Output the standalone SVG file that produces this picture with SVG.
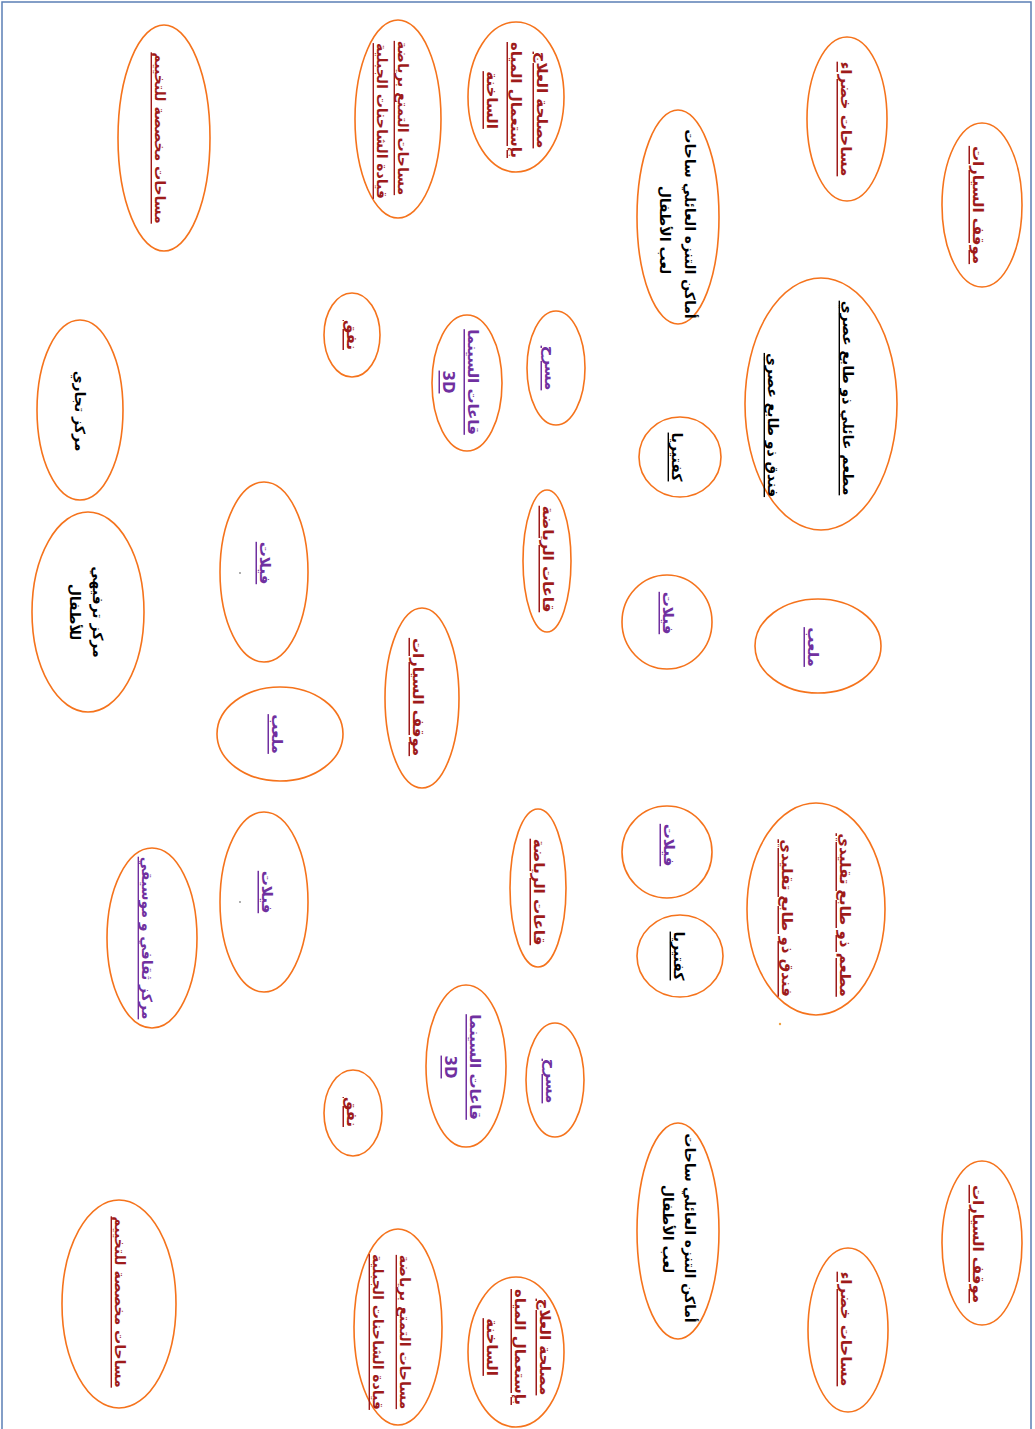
<svg xmlns="http://www.w3.org/2000/svg" width="1035" height="1429" viewBox="0 0 1035 1429">
<style>
  .e { fill: none; stroke: #f5731c; stroke-width: 1.6; }
  text { font-family: "DejaVu Sans", "Noto Sans", sans-serif; font-weight: bold; font-size: 15px; text-anchor: middle; dominant-baseline: central; }
  .r { fill: #9e1b1b; text-decoration: underline; }
  .p { fill: #7030a0; text-decoration: underline; }
  .k { fill: #000000; font-size: 14px; }
  .ku { fill: #000000; text-decoration: underline; font-size: 14px; }
  .s { font-size: 14px; }
</style>
<rect x="2" y="2" width="1029" height="1440" fill="#ffffff" stroke="#5b7fb5" stroke-width="1.5"/>
<g id="connectors"></g>

<g id="parking-top"><ellipse class="e" cx="982" cy="205" rx="40" ry="82"/>
  <text class="r" transform="translate(978,205) rotate(90)">موقف السيارات</text></g>
<g id="green-top"><ellipse class="e" cx="847" cy="119" rx="40" ry="82"/>
  <text class="r" transform="translate(846,119) rotate(90)">مساحات خضراء</text></g>
<g id="spa-top"><ellipse class="e" cx="516" cy="97" rx="48" ry="75"/>
  <text class="r" transform="translate(542,100) rotate(90)">مصلحة العلاج</text>
  <text class="r" transform="translate(516,100) rotate(90)">بإستعمال المياه</text>
  <text class="r" transform="translate(492,100) rotate(90)">الساخنة</text></g>
<g id="family-top"><ellipse class="e" cx="678" cy="217" rx="41" ry="107"/>
  <text class="k" transform="translate(690,224) rotate(90)">أماكن التنزه  العائلي ساحات</text>
  <text class="k" transform="translate(665,230) rotate(90)">لعب الأطفال</text></g>
<g id="trucks-top"><ellipse class="e" cx="398" cy="119" rx="43" ry="99"/>
  <text class="r s" transform="translate(403,118) rotate(90)">مساحات التمتع برياضة</text>
  <text class="r s" transform="translate(382,121) rotate(90)">قيادة الشاحنات الجبلية</text></g>
<g id="camping-top"><ellipse class="e" cx="164" cy="138" rx="46" ry="113"/>
  <text class="r s" transform="translate(160,138) rotate(90)">مساحات مخصصة للتخييم</text></g>
<g id="modern"><ellipse class="e" cx="821" cy="404" rx="76" ry="126"/>
  <text class="ku" transform="translate(848,398) rotate(90)">مطعم عائلي  ذو طابع عصري</text>
  <text class="ku" transform="translate(773,425) rotate(90)">فندق ذو طابع عصري</text></g>
<g id="mall"><ellipse class="e" cx="80" cy="410" rx="43" ry="90"/>
  <text class="k" transform="translate(80,411) rotate(90)">مركز تجاري</text></g>
<g id="kids"><ellipse class="e" cx="88" cy="612" rx="56" ry="100"/>
  <text class="k" transform="translate(98,612) rotate(90)">مركز ترفيهي</text>
  <text class="k" transform="translate(75,612) rotate(90)">للأطفال</text></g>
<g id="villas-l1"><ellipse class="e" cx="264" cy="572" rx="44" ry="90"/>
  <text class="p" transform="translate(265,563) rotate(90)">فيلات</text>
  <circle cx="240" cy="573" r="0.9" fill="#888"/></g>
<g id="stadium-l"><ellipse class="e" cx="280" cy="734" rx="63" ry="47"/>
  <text class="p" transform="translate(277,734) rotate(90)">ملعب</text></g>
<g id="villas-l2"><ellipse class="e" cx="264" cy="902" rx="44" ry="90"/>
  <text class="p" transform="translate(267,892) rotate(90)">فيلات</text>
  <circle cx="240" cy="902" r="0.9" fill="#888"/></g>
<g id="culture"><ellipse class="e" cx="152" cy="938" rx="45" ry="90"/>
  <text class="p s" transform="translate(147,938) rotate(90)">مركز ثقافي و موسيقي</text></g>
<g id="cinema-top"><ellipse class="e" cx="467" cy="383" rx="35" ry="68"/>
  <text class="p" transform="translate(473,382) rotate(90)">قاعات السينما</text>
  <text class="p" transform="translate(448,382) rotate(90)">3D</text></g>
<g id="theatre-top"><ellipse class="e" cx="556" cy="368" rx="29" ry="57"/>
  <text class="p" transform="translate(550,368) rotate(90)">مسرح</text></g>
<g id="cafe-top"><ellipse class="e" cx="680" cy="457" rx="41" ry="40"/>
  <text class="ku" transform="translate(677,457) rotate(90)">كفتيريا</text></g>
<g id="sport-top"><ellipse class="e" cx="547" cy="561" rx="24" ry="71"/>
  <text class="r" transform="translate(548,559) rotate(90)">قاعات الرياضة</text></g>
<g id="villas-r1"><ellipse class="e" cx="667" cy="622" rx="45" ry="47"/>
  <text class="p" transform="translate(668,613) rotate(90)">فيلات</text></g>
<g id="parking-mid"><ellipse class="e" cx="422" cy="698" rx="37" ry="90"/>
  <text class="r" transform="translate(418,697) rotate(90)">موقف السيارات</text></g>
<g id="stadium-r"><ellipse class="e" cx="818" cy="646" rx="63" ry="47"/>
  <text class="p" transform="translate(813,647) rotate(90)">ملعب</text></g>
<g id="traditional"><ellipse class="e" cx="816" cy="909" rx="69" ry="106"/>
  <text class="r" transform="translate(845,915) rotate(90)">مطعم ذو طابع تقليدي</text>
  <text class="r" transform="translate(787,918) rotate(90)">فندق ذو طابع تقليدي</text>
  <circle cx="780" cy="1024" r="1.2" fill="#f0a040"/></g>
<g id="villas-r2"><ellipse class="e" cx="667" cy="852" rx="45" ry="46"/>
  <text class="p" transform="translate(669,845) rotate(90)">فيلات</text></g>
<g id="cafe-bottom"><ellipse class="e" cx="680" cy="956" rx="43" ry="41"/>
  <text class="ku" transform="translate(679,956) rotate(90)">كفتيريا</text></g>
<g id="sport-bottom"><ellipse class="e" cx="538" cy="888" rx="28" ry="79"/>
  <text class="r" transform="translate(539,892) rotate(90)">قاعات الرياضة</text></g>
<g id="cinema-bottom"><ellipse class="e" cx="466" cy="1066" rx="40" ry="81"/>
  <text class="p" transform="translate(475,1067) rotate(90)">قاعات السينما</text>
  <text class="p" transform="translate(450,1067) rotate(90)">3D</text></g>
<g id="theatre-bottom"><ellipse class="e" cx="555" cy="1080" rx="29" ry="57"/>
  <text class="p" transform="translate(551,1081) rotate(90)">مسرح</text></g>
<g id="tunnel-top"><ellipse class="e" cx="352" cy="335" rx="28" ry="42"/>
  <text class="r" transform="translate(352,335) rotate(90)">نفق</text></g>
<g id="tunnel-bottom"><ellipse class="e" cx="353" cy="1113" rx="29" ry="43"/>
  <text class="r" transform="translate(352,1112) rotate(90)">نفق</text></g>
<g id="camping-bottom"><ellipse class="e" cx="119" cy="1304" rx="57" ry="104"/>
  <text class="r s" transform="translate(120,1302) rotate(90)">مساحات مخصصة للتخييم</text></g>
<g id="family-bottom"><ellipse class="e" cx="678" cy="1231" rx="41" ry="108"/>
  <text class="k" transform="translate(690,1228) rotate(90)">أماكن التنزه  العائلي ساحات</text>
  <text class="k" transform="translate(668,1229) rotate(90)">لعب الأطفال</text></g>
<g id="green-bottom"><ellipse class="e" cx="848" cy="1330" rx="40" ry="82"/>
  <text class="r" transform="translate(846,1329) rotate(90)">مساحات خضراء</text></g>
<g id="parking-bottom"><ellipse class="e" cx="982" cy="1243" rx="40" ry="82"/>
  <text class="r" transform="translate(978,1244) rotate(90)">موقف السيارات</text></g>
<g id="trucks-bottom"><ellipse class="e" cx="398" cy="1327" rx="44" ry="98"/>
  <text class="r s" transform="translate(405,1332) rotate(90)">مساحات التمتع برياضة</text>
  <text class="r s" transform="translate(378,1332) rotate(90)">قيادة الشاحنات الجبلية</text></g>
<g id="spa-bottom"><ellipse class="e" cx="516" cy="1352" rx="48" ry="75"/>
  <text class="r" transform="translate(545,1347) rotate(90)">مصلحة العلاج</text>
  <text class="r" transform="translate(520,1347) rotate(90)">بإستعمال المياه</text>
  <text class="r" transform="translate(492,1347) rotate(90)">الساخنة</text></g>
</svg>
